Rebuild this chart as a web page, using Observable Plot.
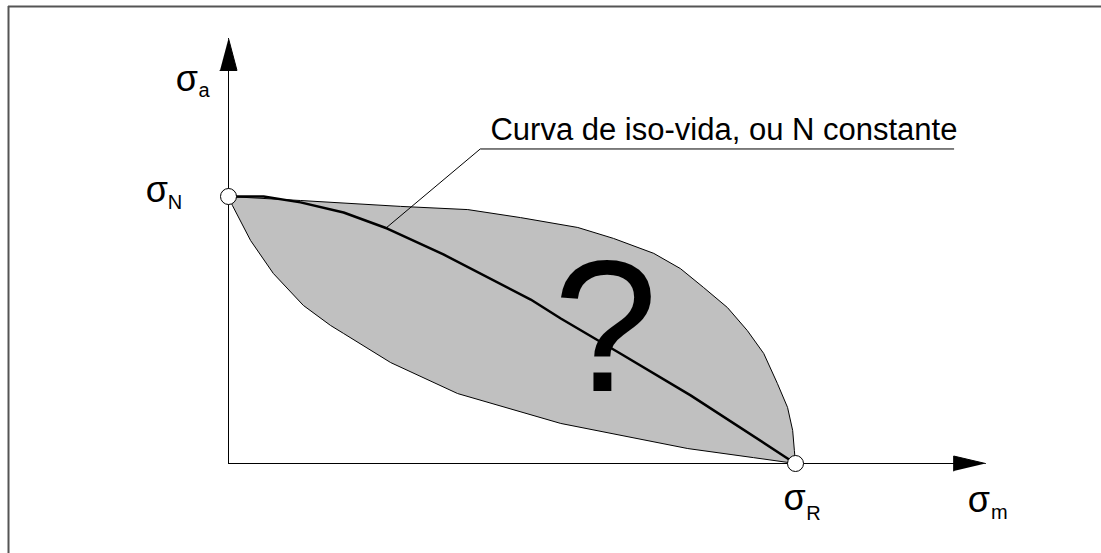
<!DOCTYPE html>
<html>
<head>
<meta charset="utf-8">
<script src="https://cdn.jsdelivr.net/npm/d3@7"></script>
<script src="https://cdn.jsdelivr.net/npm/@observablehq/plot@0.6"></script>
<style>
  html, body { margin: 0; padding: 0; background: white; }
  #chart svg { display: block; }
</style>
</head>
<body>
<div id="chart"></div>
<script>
// Normalized stress space: σm / σR on x, σa / σN on y
const upperX = [0, 0.127, 0.303, 0.422, 0.515, 0.616, 0.679, 0.750, 0.797, 0.838, 0.880, 0.915, 0.944, 0.968, 0.986, 0.995, 0.998, 1];
const upperY = [1, 0.985, 0.963, 0.951, 0.921, 0.884, 0.843, 0.787, 0.730, 0.659, 0.584, 0.498, 0.412, 0.300, 0.210, 0.124, 0.049, 0];
const lowerX = [0, 0.007, 0.039, 0.079, 0.132, 0.180, 0.203, 0.286, 0.404, 0.586, 0.810, 0.926, 1];
const lowerY = [1, 0.966, 0.835, 0.712, 0.592, 0.517, 0.487, 0.378, 0.262, 0.150, 0.056, 0.022, 0];
const isoX = [0, 0.062, 0.127, 0.203, 0.280, 0.379, 0.533, 0.586, 0.691, 0.815, 0.986, 1];
const isoY = [1, 1, 0.978, 0.940, 0.880, 0.783, 0.614, 0.543, 0.412, 0.255, 0.019, 0];
const leaderX = [0.279, 0.444, 1.279];
const leaderY = [0.884, 1.178, 1.178];
const endPointX = [0, 1];
const endPointY = [1, 0];
const axisVX = [0, 0]; const axisVY = [0, 1.472];
const axisHX = [0, 1.279]; const axisHY = [0, 0];
const arrowVX = [-0.015, 0.015, 0]; const arrowVY = [1.472, 1.472, 1.592];
const arrowHX = [1.279, 1.279, 1.335]; const arrowHY = [-0.028, 0.028, 0];
const frameLeft = -0.388, frameTop = 1.712;
const labelText = "Curva de iso-vida, ou N constante";
const labelPos = [0.462, 1.210];
const questionPos = [0.665, 0.273];
// symbol labels: main glyph, subscript, and their anchor positions
const sigmaLabels = [
  {s: "σ", sub: "a", x: -0.093, y: 1.397, xs: -0.053, ys: 1.371},
  {s: "σ", sub: "N", x: -0.146, y: 0.981, xs: -0.107, ys: 0.955},
  {s: "σ", sub: "R", x: 0.979, y: -0.176, xs: 1.019, ys: -0.210},
  {s: "σ", sub: "m", x: 1.304, y: -0.180, xs: 1.345, ys: -0.206}
];

const pts = (xs, ys) => xs.map((x, i) => ({x, y: ys[i]}));
const region = pts(upperX, upperY).concat(pts(lowerX, lowerY).reverse());

const font = "'Liberation Sans', Arial, Helvetica, sans-serif";

const chart = Plot.plot({
  width: 1101,
  height: 553,
  margin: 0,
  x: {domain: [-228 / 567, 873 / 567], axis: null},
  y: {domain: [-90 / 267, 463 / 267], axis: null},
  style: {background: "white", fontFamily: font, overflow: "visible"},
  marks: [
    Plot.ruleY([frameTop], {x1: frameLeft, x2: 2, stroke: "#555", strokeWidth: 2}),
    Plot.ruleX([frameLeft], {y1: -1, y2: frameTop, stroke: "#555", strokeWidth: 2}),
    Plot.line(region, {x: "x", y: "y", fill: "#c0c0c0", stroke: "black", strokeWidth: 1, strokeLinejoin: "round"}),
    Plot.line(pts(axisVX, axisVY), {x: "x", y: "y", stroke: "black", strokeWidth: 1}),
    Plot.line(pts(axisHX, axisHY), {x: "x", y: "y", stroke: "black", strokeWidth: 1}),
    Plot.line(pts(arrowVX, arrowVY), {x: "x", y: "y", fill: "black", stroke: "black", strokeWidth: 1}),
    Plot.line(pts(arrowHX, arrowHY), {x: "x", y: "y", fill: "black", stroke: "black", strokeWidth: 1}),
    Plot.text(["?"], {x: questionPos[0], y: questionPos[1], text: d => d, fontSize: 188, lineAnchor: "bottom", textAnchor: "middle", fill: "black"}),
    Plot.line(pts(leaderX, leaderY), {x: "x", y: "y", stroke: "black", strokeWidth: 1}),
    Plot.line(pts(isoX, isoY), {x: "x", y: "y", stroke: "black", strokeWidth: 2.5, strokeLinejoin: "round"}),
    Plot.dot(pts(endPointX, endPointY), {x: "x", y: "y", r: 8, fill: "white", stroke: "black", strokeWidth: 1}),
    Plot.text([labelText], {x: labelPos[0], y: labelPos[1], text: d => d, fontSize: 31, textAnchor: "start", lineAnchor: "bottom", fill: "black"}),
    Plot.text(sigmaLabels, {x: "x", y: "y", text: "s", fontSize: 36, textAnchor: "start", lineAnchor: "bottom", fill: "black"}),
    Plot.text(sigmaLabels, {x: "xs", y: "ys", text: "sub", fontSize: 20, textAnchor: "start", lineAnchor: "bottom", fill: "black"})
  ]
});
document.getElementById("chart").appendChild(chart);
</script>
</body>
</html>
